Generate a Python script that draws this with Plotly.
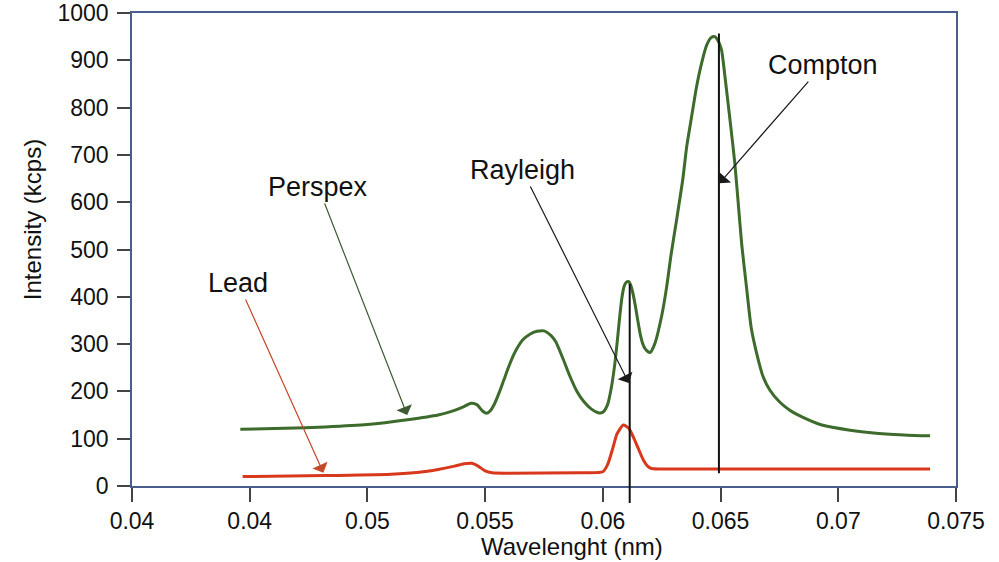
import plotly.graph_objects as go

# ---- data ----
perspex_x = [0.0446, 0.0465, 0.0482, 0.0500, 0.0517, 0.0530, 0.0537, 0.0541, 0.0544, 0.05465,
             0.0549, 0.05507, 0.0552, 0.0554, 0.0556, 0.0558, 0.0560, 0.0562, 0.0564, 0.0566, 0.0569,
             0.0572, 0.0575, 0.0578, 0.0580, 0.0583, 0.0586, 0.0589, 0.0592, 0.0595, 0.0598,
             0.0600, 0.0602, 0.06035, 0.0605, 0.0606, 0.0607, 0.0608, 0.0609, 0.0610, 0.0611, 0.0612,
             0.0613, 0.0614, 0.0615, 0.0616, 0.0617, 0.0618, 0.0620, 0.0622, 0.0625, 0.06271,
             0.0629, 0.06313, 0.0634, 0.06356, 0.0638, 0.06398, 0.0642, 0.06441, 0.0646, 0.06475,
             0.0649, 0.06504, 0.0652, 0.0654, 0.0656, 0.06575, 0.0659, 0.0661, 0.0663, 0.06653,
             0.0668, 0.06709, 0.0675, 0.06794, 0.0685, 0.0693, 0.0705, 0.0715, 0.0728, 0.0739]
perspex_y = [120, 122, 125, 130, 140, 150, 160, 168, 175, 172,
             158, 154, 158, 174, 198, 225, 252, 276, 295, 309, 321,
             327, 328, 318, 305, 270, 232, 200, 178, 163, 155,
             156, 172, 205, 255, 300, 350, 395, 422, 431, 432, 422,
             402, 375, 345, 318, 300, 290, 282, 300, 360, 421,
             490, 562, 650, 717, 790, 844, 895, 932, 948, 950,
             941, 922, 860, 774, 685, 598, 510, 421, 335, 281,
             232, 203, 178, 160, 145, 129, 118, 112, 108, 106]

lead_x = [0.0447, 0.0482, 0.0510, 0.0522, 0.0530, 0.0537, 0.0541, 0.05443, 0.0547, 0.0550,
          0.0553, 0.0560, 0.0590, 0.0600, 0.0602, 0.06044, 0.0606, 0.06087, 0.0611, 0.06129,
          0.0615, 0.06172, 0.0619, 0.06207, 0.0630, 0.0700, 0.0739]
lead_y = [20, 22, 25, 29, 35, 42, 47, 48, 42, 32,
          28, 27, 28, 30, 45, 83, 110, 129, 122, 104,
          80, 55, 42, 37, 36, 36, 36]

x_tickvals = [0.04, 0.045, 0.05, 0.055, 0.06, 0.065, 0.07, 0.075]
x_ticktext = ["0.04", "0.04", "0.05", "0.055", "0.06", "0.065", "0.07", "0.075"]
y_tickvals = [0, 100, 200, 300, 400, 500, 600, 700, 800, 900, 1000]

rayleigh_x = 0.06114
rayleigh_y = [-36, 430]
compton_x = 0.06493
compton_y = [27, 960]

labels = ["Perspex", "Lead", "Rayleigh", "Compton"]
label_pos = [(0.04791, 632), (0.04451, 429), (0.05657, 668), (0.06934, 890)]
label_tip = [(0.05169, 150), (0.04813, 28), (0.06110, 218), (0.06495, 640)]
label_arrow_col = ["#3d5a33", "#c4482a", "#1a1a1a", "#1a1a1a"]

GREEN = "#3c6b2b"
RED = "#d8391c"
FONT = "Liberation Sans, Arial, Helvetica, sans-serif"

fig = go.Figure()
fig.add_trace(go.Scatter(x=perspex_x, y=perspex_y, mode="lines", name="Perspex",
                         line=dict(color=GREEN, width=3, shape="spline", smoothing=0.6)))
fig.add_trace(go.Scatter(x=lead_x, y=lead_y, mode="lines", name="Lead",
                         line=dict(color=RED, width=3, shape="spline", smoothing=0.6)))

annotations = []
# vertical reference lines (annotations are not clipped to plot area)
annotations.append(dict(x=rayleigh_x, y=rayleigh_y[0], ax=rayleigh_x, ay=rayleigh_y[1],
                        xref="x", yref="y", axref="x", ayref="y", text="",
                        showarrow=True, arrowhead=0, arrowwidth=2, arrowcolor="#111"))
annotations.append(dict(x=compton_x, y=compton_y[0], ax=compton_x, ay=compton_y[1],
                        xref="x", yref="y", axref="x", ayref="y", text="",
                        showarrow=True, arrowhead=0, arrowwidth=2, arrowcolor="#111"))

for lab, (tx, ty), (px, py), col in zip(labels, label_pos, label_tip, label_arrow_col):
    annotations.append(dict(x=px, y=py, ax=tx, ay=ty, xref="x", yref="y", axref="x", ayref="y",
                            text=lab, showarrow=True, arrowhead=1, arrowsize=2.3, arrowwidth=1.2,
                            arrowcolor=col, font=dict(family=FONT, size=27, color="#111")))

# axis titles
annotations.append(dict(x=0.534, y=0, xref="paper", yref="paper", yshift=-60,
                        xanchor="center", yanchor="middle", showarrow=False,
                        text="Wavelenght (nm)", font=dict(family=FONT, size=24, color="#111")))
annotations.append(dict(x=0, y=0.562, xref="paper", yref="paper", xshift=-100,
                        xanchor="center", yanchor="middle", showarrow=False, textangle=-90,
                        text="Intensity (kcps)", font=dict(family=FONT, size=24, color="#111")))

fig.update_layout(
    width=999, height=562,
    margin=dict(l=132, r=43, t=13, b=76, autoexpand=False),
    paper_bgcolor="white", plot_bgcolor="white",
    showlegend=False,
    font=dict(family=FONT, size=23, color="#111"),
    annotations=annotations,
    xaxis=dict(range=[0.04, 0.075], tickvals=x_tickvals, ticktext=x_ticktext,
               showgrid=False, zeroline=False, showline=True, mirror=True, automargin=False,
               linecolor="#4b5d8c", linewidth=1.5, ticks="outside", ticklen=14,
               tickwidth=1.5, tickcolor="#444", tickfont=dict(family=FONT, size=23, color="#111")),
    yaxis=dict(range=[0, 1000], tickvals=y_tickvals, automargin=False,
               showgrid=False, zeroline=False, showline=True, mirror=True,
               linecolor="#4b5d8c", linewidth=1.5, ticks="outside", ticklen=13,
               tickwidth=1.5, tickcolor="#444", ticklabelstandoff=4,
               tickfont=dict(family=FONT, size=23, color="#111")),
)

fig.write_html("out.html")
